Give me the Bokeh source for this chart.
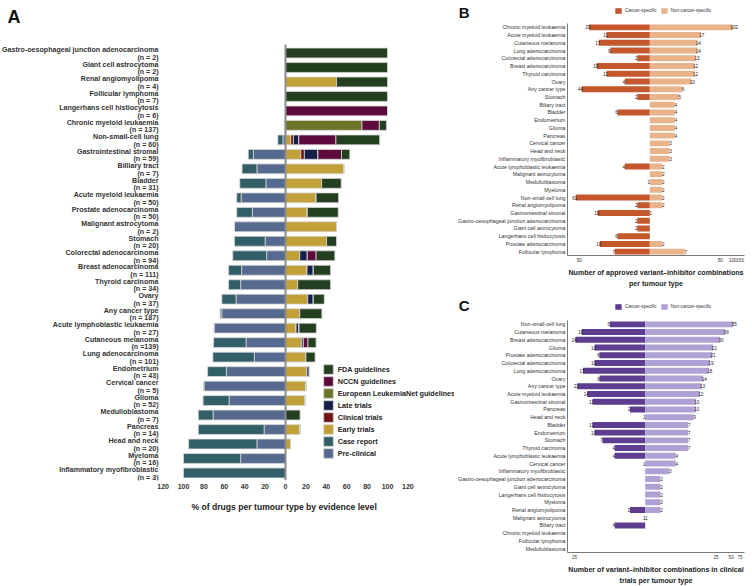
from bokeh.plotting import figure
from bokeh.models import (Range1d, FactorRange, FixedTicker, LogScale, Legend, LegendItem,
                          Title, Label, ColumnDataSource)
from bokeh.layouts import row, column
from bokeh.embed import file_html
from bokeh.resources import INLINE
from bokeh.core.properties import value

FONT = "Liberation Sans"

# ---------------- Panel A data ----------------
a_cats = ["Gastro-oesophageal junction adenocarcinoma", "Giant cell astrocytoma", "Renal angiomyolipoma",
          "Follicular lymphoma", "Langerhans cell histiocytosis", "Chronic myeloid leukaemia",
          "Non-small-cell lung", "Gastrointestinal stromal", "Billiary tract", "Bladder",
          "Acute myeloid leukaemia", "Prostate adenocarcinoma", "Malignant astrocytoma", "Stomach",
          "Colorectal adenocarcinoma", "Breast adenocarcinoma", "Thyroid carcinoma", "Ovary",
          "Any cancer type", "Acute lymphoblastic leukaemia", "Cutaneous melanoma",
          "Lung adenocarcinoma", "Endometrium", "Cervical cancer", "Glioma", "Medulloblastoma",
          "Pancreas", "Head and neck", "Myeloma", "Inflammatory myofibroblastic"]
a_n_labels = ["(n = 2)", "(n = 2)", "(n = 4)", "(n = 7)", "(n = 6)", "(n = 137)", "(n = 60)",
              "(n = 59)", "(n = 7)", "(n = 31)", "(n = 50)", "(n = 50)", "(n = 2)", "(n = 20)",
              "(n = 94)", "(n = 111)", "(n = 34)", "(n = 37)", "(n = 187)", "(n = 27)", "(n =139)",
              "(n = 101)", "(n = 43)", "(n = 5)", "(n = 52)", "(n = 7)", "(n = 14)", "(n = 20)",
              "(n = 16)", "(n = 3)"]
a_early = [0, 0, 50, 0, 0, 0, 5.2, 15, 57, 35.4, 30, 21.4, 50, 40.3, 14, 21.1, 12, 21.8, 14, 10.4,
           15.6, 20, 21, 20, 19.2, 0, 14.3, 4.9, 0, 0]
a_clinical = [0, 0, 0, 0, 0, 0, 2.6, 3.5, 0, 0, 0, 0, 0, 0, 0, 0, 0, 0, 0, 0,
              0, 0, 0, 0, 0, 0, 0, 0, 0, 0]
a_late = [0, 0, 0, 0, 0, 0, 5.2, 13.3, 0, 0, 0, 0, 0, 0, 7.4, 6.2, 0, 5.5, 0, 2.9,
          1.9, 0, 2.4, 0, 0, 0, 0, 0, 0, 0]
a_eln = [0, 0, 0, 0, 0, 75, 0, 0, 0, 0, 0, 0, 0, 0, 0, 0, 0, 0, 0, 0,
         0, 0, 0, 0, 0, 0, 0, 0, 0, 0]
a_nccn = [0, 0, 0, 0, 100, 17, 36.4, 23.1, 0, 0, 0, 0, 0, 0, 8.6, 0, 0, 0, 0, 0,
          4.5, 0, 0, 0, 0, 0, 0, 0, 0, 0]
a_fda = [100, 100, 50, 100, 0, 7, 42.9, 8.1, 0, 19.2, 22, 30.3, 0, 9.7, 18.4, 16.9, 32.2, 10.7, 21.7, 16.9,
         8, 9, 0, 0, 0, 14.3, 0, 0, 0, 0]
a_pre = [0, 0, 0, 0, 0, 1, 2.5, 31.5, 28, 19.2, 43.5, 32.5, 50, 20, 18.5, 43, 44, 48.5, 62.5, 70,
         38.7, 30.6, 58, 80, 55.3, 71, 21, 28, 44, 0]
a_case = [0, 0, 0, 0, 0, 0, 5, 5, 14.6, 25.6, 4.3, 15.3, 0, 30, 33.2, 12.8, 11.8, 13.9, 1.5, 0,
          31.8, 40.6, 18.4, 0, 25.5, 14.5, 64.5, 67, 56, 100]
a_ticks = [-120, -100, -80, -60, -40, -20, 0, 20, 40, 60, 80, 100, 120]
a_legend = ["FDA guidelines", "NCCN guidelines", "European LeukemiaNet guidelines", "Late trials",
            "Clinical trials", "Early trials", "Case report", "Pre-clinical"]

# ---------------- Panel B data ----------------
b_cats = ["Chronic myeloid leukaemia", "Acute myeloid leukaemia", "Cutaneous melanoma",
          "Lung adenocarcinoma", "Colorectal adenocarcinoma", "Breast adenocarcinoma",
          "Thyroid carcinoma", "Ovary", "Any cancer type", "Stomach", "Biliary tract", "Bladder",
          "Endometrium", "Glioma", "Pancreas", "Cervical cancer", "Head and neck",
          "Inflammatory myofibroblastic", "Acute lymphoblastic leukaemia", "Malignant astrocytoma",
          "Medulloblastoma", "Myeloma", "Non-small-cell lung", "Renal angiomyolipoma",
          "Gastrointestinal stromal", "Gastro-oesophageal junction adenocarcinoma",
          "Giant cell astrocytoma", "Langerhans cell histiocytosis", "Prostate adenocarcinoma",
          "Follicular lymphoma"]
b_cancer = [29, 11, 17, 9, 2, 19, 11, 4, 44, 2, 0, 6, 0, 0, 0, 0, 0, 0, 4, 0, 1, 0, 61, 2, 18, 2, 2, 6, 16, 7]
b_non = [102, 17, 14, 14, 13, 12, 12, 10, 6, 5, 4, 4, 4, 4, 4, 3, 3, 3, 2, 2, 2, 2, 2, 2, 1, 0, 0, 0, 2, 7]
b_ticks = [1 / 50, 50, 100, 150]
b_tick_labels = ["50", "50", "100", "150"]

# ---------------- Panel C data ----------------
c_cats = ["Non-small-cell lung", "Cutaneous melanoma", "Breast adenocarcinoma", "Glioma",
          "Prostate adenocarcinoma", "Colorectal adenocarcinoma", "Lung adenocarcinoma", "Ovary",
          "Any cancer type", "Acute myeloid leukaemia", "Gastrointestinal stromal", "Pancreas",
          "Head and neck", "Bladder", "Endometrium", "Stomach", "Thyroid carcinoma",
          "Acute lymphoblastic leukaemia", "Cervical cancer", "Inflammatory myofibroblastic",
          "Gastro-oesophageal junction adenocarcinoma", "Giant cell astrocytoma",
          "Langerhans cell histiocytosis", "Myeloma", "Renal angiomyolipoma", "Malignant astrocytoma",
          "Biliary tract", "Chronic myeloid leukaemia", "Follicular lymphoma", "Medulloblastoma"]
c_cancer = [5, 18, 24, 10, 8, 10, 17, 8, 22, 14, 11, 2, 1, 11, 10, 7, 4, 4, 1, 0, 0, 0, 0, 0, 2, 1, 4, 0, 0, 0]
c_non = [55, 38, 30, 22, 21, 19, 18, 14, 13, 12, 10, 10, 9, 7, 7, 7, 7, 4, 4, 3, 2, 2, 2, 2, 2, 1, 0, 0, 0, 0]
c_ticks = [1 / 25, 25, 50, 75]
c_tick_labels = ["25", "25", "50", "75"]

# ---------------- styles ----------------
A_COLORS = {"fda": "#243f1f", "nccn": "#5c0b3c", "eln": "#6b7428", "late": "#141f4a",
            "clinical": "#6e1414", "early": "#c1a037", "case": "#325e68", "pre": "#56698f"}
TXT = "#333333"
A_W = 454
RIGHT_W = 752 - A_W
FRAME_L = 567          # page x of the B/C frames' left edge
LEFT_B = FRAME_L - A_W
RIGHT_B = 8

# ================= Panel A =================
pA = figure(width=A_W, height=586, x_range=Range1d(-285 / 1.02, (A_W - 285) / 1.02),
            y_range=Range1d(29.52, -3.626),
            output_backend="svg", toolbar_location=None, y_axis_location=None,
            min_border_left=0, min_border_right=0, min_border_top=0, min_border_bottom=106)
pA.outline_line_color = None
pA.xgrid.visible = False
pA.ygrid.visible = False

ys = list(range(len(a_cats)))
srcA = ColumnDataSource(dict(y=ys, early=a_early, clinical=a_clinical, late=a_late, eln=a_eln,
                             nccn=a_nccn, fda=a_fda,
                             pre=[-v for v in a_pre], case=[-v for v in a_case]))
right_keys = ["early", "clinical", "late", "eln", "nccn", "fda"]
rr = pA.hbar_stack(right_keys, y="y", height=0.68, color=[A_COLORS[k] for k in right_keys],
                   line_color="#d6d6d6", line_width=0.8, source=srcA)
lr = pA.hbar_stack(["pre", "case"], y="y", height=0.68, color=[A_COLORS["pre"], A_COLORS["case"]],
                   line_color="#d6d6d6", line_width=0.8, source=srcA)
rmap = dict(zip(right_keys, rr))
rmap["pre"], rmap["case"] = lr

pA.segment(x0=[0], y0=[-0.587], x1=[0], y1=[29.52], line_color="#8c8c8c", line_width=2)

pA.text(x=[-124.5] * len(a_cats), y=[y - 0.19 for y in ys], text=a_cats, text_align="right",
        text_baseline="middle", text_font=value(FONT), text_font_style="bold",
        text_font_size="7.1px", text_color=TXT)
pA.text(x=[-124.5] * len(a_cats), y=[y + 0.33 for y in ys], text=a_n_labels, text_align="right",
        text_baseline="middle", text_font=value(FONT), text_font_style="bold",
        text_font_size="7.1px", text_color=TXT)

xa = pA.xaxis[0]
xa.ticker = FixedTicker(ticks=a_ticks)
xa.major_label_overrides = {t: str(abs(t)) for t in a_ticks}
xa.axis_line_color = None
xa.major_tick_line_color = None
xa.minor_tick_line_color = None
xa.major_tick_out = 0
xa.major_label_standoff = 3
xa.major_label_text_font = FONT
xa.major_label_text_font_size = "7px"
xa.major_label_text_font_style = "bold"
xa.major_label_text_color = TXT

pA.add_layout(Title(text="% of drugs per tumour type by evidence level", align="left", offset=191,
                    text_font=FONT, text_font_size="8.6px", text_font_style="bold",
                    text_color="#222222", standoff=20, vertical_align="top"), "below")

pA.add_layout(Label(x=7, y=464, x_units="screen", y_units="screen", text="A", text_font=FONT,
                    text_font_size="18px", text_font_style="bold", text_color="#111111",
                    text_baseline="alphabetic"))

leg_keys = ["fda", "nccn", "eln", "late", "clinical", "early", "case", "pre"]
legA = Legend(items=[LegendItem(label=lab, renderers=[rmap[k]]) for lab, k in zip(a_legend, leg_keys)],
              location=(321.7, 20.6), orientation="vertical", glyph_width=12, glyph_height=12,
              label_height=12, spacing=0, padding=0, margin=0, label_standoff=4,
              border_line_color=None, background_fill_alpha=0,
              label_text_font=FONT, label_text_font_size="7.2px", label_text_font_style="bold",
              label_text_color="#222222")
pA.add_layout(legA)


# ================= Panels B / C =================
def header(letter, height, dark, light, leg_bottom_from_top):
    """Strip above a panel holding the panel letter (as a horizontal axis label) and the legend."""
    h = figure(width=RIGHT_W, height=height, x_range=Range1d(0, 1), y_range=Range1d(0, 1),
               output_backend="svg", toolbar_location=None, x_axis_location=None,
               min_border_left=LEFT_B, min_border_right=RIGHT_B, min_border_top=0,
               min_border_bottom=0)
    h.outline_line_color = None
    h.xgrid.visible = False
    h.ygrid.visible = False
    ya = h.yaxis[0]
    ya.ticker = FixedTicker(ticks=[])
    ya.axis_line_color = None
    ya.major_tick_line_color = None
    ya.minor_tick_line_color = None
    ya.major_tick_out = 0
    ya.minor_tick_out = 0
    ya.major_label_text_font_size = "0px"
    ya.axis_label = letter
    ya.axis_label_orientation = "horizontal"
    ya.axis_label_standoff = 98
    ya.axis_label_text_font = FONT
    ya.axis_label_text_font_size = "15px"
    ya.axis_label_text_font_style = "bold"
    ya.axis_label_text_color = "#111111"

    # swatch-only renderers for the legend (zero-size, not visible in the strip)
    swatch = ColumnDataSource(dict(y=[0], left=[0], right=[0]))
    rd = h.hbar(y="y", left="left", right="right", height=0, fill_color=dark, line_color=None,
                source=swatch)
    rl = h.hbar(y="y", left="left", right="right", height=0, fill_color=light, line_color=None,
                source=swatch)
    leg = Legend(items=[LegendItem(label="Cancer-specific", renderers=[rd]),
                        LegendItem(label="Non-cancer-specific", renderers=[rl])],
                 location=(614 - FRAME_L, height - leg_bottom_from_top), orientation="horizontal",
                 glyph_width=8, glyph_height=7, label_height=7, spacing=3, padding=0, margin=0,
                 label_standoff=3, border_line_color=None, background_fill_alpha=0,
                 label_text_font=FONT, label_text_font_size="4.6px", label_text_color="#333333")
    h.add_layout(leg)
    return h


def diverging(cats, cancer, non, ticks, tick_labels, zero_px, px_dec, height, bottom,
              dark, light, title1, title2):
    fw = RIGHT_W - LEFT_B - RIGHT_B
    lo = zero_px / px_dec
    hi = (fw - zero_px) / px_dec
    p = figure(width=RIGHT_W, height=height, x_axis_type="log",
               x_range=Range1d(10 ** -lo, 10 ** hi),
               y_range=FactorRange(factors=cats[::-1], range_padding=0),
               output_backend="svg", toolbar_location=None,
               min_border_left=LEFT_B, min_border_right=RIGHT_B, min_border_top=0,
               min_border_bottom=bottom)
    p.extra_x_ranges = {"left": Range1d(10 ** lo, 10 ** -hi)}
    p.extra_x_scales = {"left": LogScale()}
    p.outline_line_color = None
    p.xgrid.visible = False
    p.ygrid.visible = False

    lsrc = ColumnDataSource(dict(y=[c for c, v in zip(cats, cancer) if v > 0],
                                 v=[v for v in cancer if v > 0],
                                 t=[str(v) for v in cancer if v > 0]))
    rsrc = ColumnDataSource(dict(y=[c for c, v in zip(cats, non) if v > 0],
                                 v=[v for v in non if v > 0],
                                 t=[str(v) for v in non if v > 0]))
    p.hbar(y="y", left=1, right="v", height=0.77, fill_color=dark, line_color=None,
           x_range_name="left", source=lsrc)
    p.hbar(y="y", left=1, right="v", height=0.77, fill_color=light, line_color=None,
           source=rsrc)
    p.text(x="v", y="y", text="t", x_range_name="left", source=lsrc, text_align="center",
           text_baseline="middle", x_offset=-1, text_font=value(FONT), text_font_size="4.6px",
           text_color="#1a1a1a")
    p.text(x="v", y="y", text="t", source=rsrc, text_align="center",
           text_baseline="middle", x_offset=1, text_font=value(FONT), text_font_size="4.6px",
           text_color="#1a1a1a")

    ya = p.yaxis[0]
    ya.axis_line_color = "#777777"
    ya.axis_line_width = 1
    ya.major_tick_line_color = None
    ya.minor_tick_line_color = None
    ya.major_tick_out = 0
    ya.major_label_standoff = 2
    ya.major_label_text_font = FONT
    ya.major_label_text_font_size = "5.25px"
    ya.major_label_text_color = TXT

    xa = p.xaxis[0]
    xa.ticker = FixedTicker(ticks=ticks)
    xa.major_label_overrides = dict(zip(ticks, tick_labels))
    xa.axis_line_color = "#777777"
    xa.axis_line_width = 1
    xa.major_tick_line_color = None
    xa.minor_tick_line_color = None
    xa.major_tick_out = 0
    xa.major_label_standoff = 2
    xa.major_label_text_font = FONT
    xa.major_label_text_font_size = "4.6px"
    xa.major_label_text_color = TXT
    xa.axis_label = title1
    xa.axis_label_standoff = 4
    xa.axis_label_text_font = FONT
    xa.axis_label_text_font_size = "7.1px"
    xa.axis_label_text_font_style = "bold"
    xa.axis_label_text_color = "#222222"

    p.add_layout(Title(text=title2, align="center", text_font=FONT, text_font_size="7.1px",
                       text_font_style="bold", text_color="#222222", standoff=0,
                       vertical_align="top"), "below")
    return p


hB = header("B", 23, "#c4572c", "#e9b48c", leg_bottom_from_top=13.7)
pB = diverging(b_cats, b_cancer, b_non, b_ticks, b_tick_labels, zero_px=649.3 - FRAME_L, px_dec=41.5,
               height=266, bottom=33, dark="#c4572c", light="#e9b48c",
               title1="Number of approved variant\u2013inhibitor combinations",
               title2="per tumour type")
hC = header("C", 31, "#5e3d91", "#b0a0d4", leg_bottom_from_top=310 - 289)
pC = diverging(c_cats, c_cancer, c_non, c_ticks, c_tick_labels, zero_px=644.7 - FRAME_L, px_dec=50.6,
               height=266, bottom=32, dark="#5e3d91", light="#b0a0d4",
               title1="Number of variant\u2013inhibitor combinations in clinical",
               title2="trials per tumour type")

layout = row(pA, column(hB, pB, hC, pC))
open("out.html", "w").write(file_html(layout, INLINE))
